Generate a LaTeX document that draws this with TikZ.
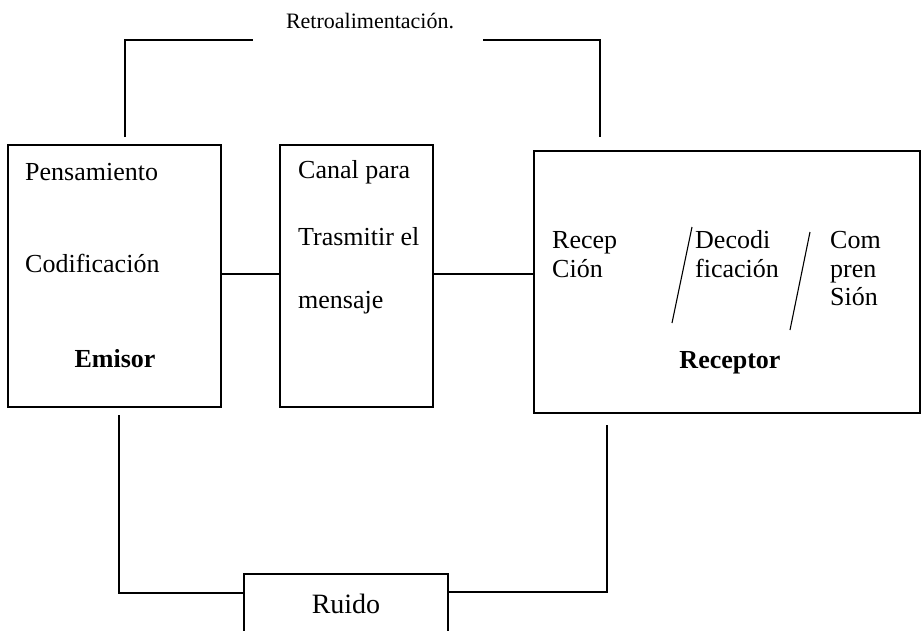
\documentclass[tikz,border=0pt]{standalone}
\usepackage{fontspec}
\setmainfont{Liberation Serif}
\usetikzlibrary{positioning}

\tikzset{
  caja/.style={draw, line width=1.1pt, rectangle, inner sep=0pt},
  txt/.style={anchor=base west, inner sep=0pt, font=\fontsize{26}{30}\selectfont},
  linea/.style={line width=1.1pt}
}

\begin{document}
\begin{tikzpicture}[x=1pt, y=-1pt]
  \clip (0,0) rectangle (922,630);
  % cajas
  \node[caja, minimum width=213pt, minimum height=262pt] (emisor) at (114.5,276) {};
  \node[caja, minimum width=153pt, minimum height=262pt] (canal) at (356.5,276) {};
  \node[caja, minimum width=386pt, minimum height=262pt] (receptor) at (727,282) {};
  \node[caja, minimum width=204pt, minimum height=86pt] (ruido) at (346,617) {};

  % textos emisor
  \node[txt] (pens) at (25,180) {Pensamiento};
  \node[txt] (codif) at (25,272) {Codificación};
  \node[txt, anchor=base, font=\fontsize{26}{30}\selectfont\bfseries] (emi) at (115,367) {Emisor};
  % textos canal
  \node[txt] (canal1) at (298,178) {Canal para};
  \node[txt] (canal2) at (298,245) {Trasmitir el};
  \node[txt] (canal3) at (298,308) {mensaje};
  % textos receptor
  \node[txt] (recep1) at (552,248) {Recep};
  \node[txt] (recep2) at (552,277) {Ción};
  \node[txt] (deco1) at (695,248) {Decodi};
  \node[txt] (deco2) at (695,277) {ficación};
  \node[txt] (comp1) at (830,248) {Com};
  \node[txt] (comp2) at (830,277) {pren};
  \node[txt] (comp3) at (830,305) {Sión};
  \node[txt, anchor=base, font=\fontsize{26}{30}\selectfont\bfseries] (rec) at (730,368) {Receptor};
  \draw[linea] (692,227) -- (672,323);
  \draw[linea] (810,232) -- (790,330);

  \node[txt, anchor=base, font=\fontsize{22}{26}\selectfont] (retro) at (370,28) {Retroalimentación.};
  \node[txt, anchor=base, font=\fontsize{28}{32}\selectfont] (ruidotxt) at (346,613) {Ruido};

  % conexiones
  \draw[linea] (emisor.east |- 0,274) -- (canal.west |- 0,274);
  \draw[linea] (canal.east |- 0,274) -- (receptor.west |- 0,274);

  % retroalimentacion
  \coordinate (fbA) at (125,137);
  \coordinate (fbB) at (253,40);
  \coordinate (fbC) at (483,40);
  \coordinate (fbD) at (600,137);
  \draw[linea] (fbA) |- (fbB);
  \draw[linea] (fbC) -| (fbD);

  % ruido
  \coordinate (rA) at (119,415);
  \coordinate (rB) at (607,425);
  \draw[linea] (rA) |- (ruido.west |- 0,593);
  \draw[linea] (ruido.east |- 0,592) -| (rB);
\end{tikzpicture}
\end{document}
